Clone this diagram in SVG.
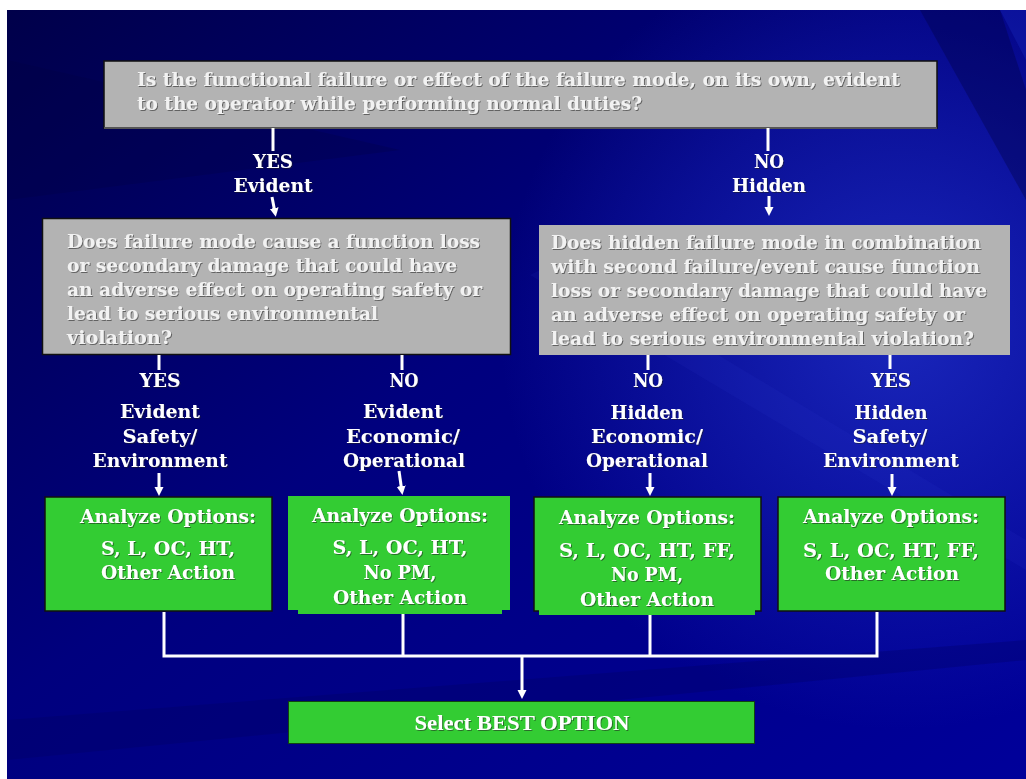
<svg xmlns="http://www.w3.org/2000/svg" width="1026" height="779" viewBox="0 0 1026 779">
<defs>
<linearGradient id="bg" x1="0" y1="0" x2="1" y2="1">
<stop offset="0" stop-color="#00004a"/>
<stop offset="0.45" stop-color="#00007e"/>
<stop offset="1" stop-color="#00009a"/>
</linearGradient>
<radialGradient id="glow" cx="900" cy="330" r="400" gradientUnits="userSpaceOnUse">
<stop offset="0" stop-color="#2436d0" stop-opacity="0.7"/>
<stop offset="1" stop-color="#2436d0" stop-opacity="0"/>
</radialGradient>
<filter id="ts" x="-5%" y="-30%" width="110%" height="160%">
<feDropShadow dx="1" dy="1" stdDeviation="0.4" flood-color="#222" flood-opacity="0.55"/>
</filter>
<marker id="ah" markerUnits="userSpaceOnUse" markerWidth="10" markerHeight="10" refX="1" refY="4.5" orient="auto">
<path d="M0,0 L9,4.5 L0,9 z" fill="#fff"/>
</marker>
<style>
.t{font-family:"DejaVu Serif","Liberation Serif",serif;font-weight:bold;font-size:18px;fill:#fff;filter:url(#ts)}
.g{fill:#f2f2f2}
.c{text-anchor:middle}
.gray{fill:#b3b3b3}
.green{fill:#33cc33}
.bd{stroke:#111;stroke-width:1.5}
.ln{stroke:#fff;stroke-width:3;fill:none}
.ar{stroke:#fff;stroke-width:3;fill:none;marker-end:url(#ah)}
</style>
</defs>
<rect x="0" y="0" width="1026" height="779" fill="#fff"/>
<g id="background">
<rect x="7" y="10" width="1019" height="769" fill="url(#bg)"/>
<rect x="7" y="10" width="1019" height="769" fill="url(#glow)"/>
<polygon points="920,10 1000,10 1026,90 1026,200" fill="#000040" opacity="0.35"/>
<polygon points="1000,10 1026,10 1026,60" fill="#1a2ac0" opacity="0.35"/>
<polygon points="7,60 400,150 7,200" fill="#000040" opacity="0.25"/>
<polygon points="7,720 1026,640 1026,660 7,760" fill="#000060" opacity="0.3"/>
<polygon points="560,260 1026,540 1026,570 530,275" fill="#3a4ae0" opacity="0.08"/>
</g>
<g id="q-evident">
<rect x="104" y="61" width="833" height="67" class="gray bd"/>
<line x1="104" y1="128" x2="937" y2="128" stroke="#555" stroke-width="2"/>
<text class="t g" x="137" y="86" textLength="763" lengthAdjust="spacingAndGlyphs">Is the functional failure or effect of the failure mode, on its own, evident</text>
<text class="t g" x="137" y="110" textLength="505" lengthAdjust="spacingAndGlyphs">to the operator while performing normal duties?</text>
</g>
<g id="q-evident-safety">
<rect x="42.5" y="218.5" width="468" height="136" class="gray bd"/>
<text class="t g" x="67" y="248" textLength="413" lengthAdjust="spacingAndGlyphs">Does failure mode cause a function loss</text>
<text class="t g" x="67" y="272" textLength="390" lengthAdjust="spacingAndGlyphs">or secondary damage that could have</text>
<text class="t g" x="67" y="296" textLength="415" lengthAdjust="spacingAndGlyphs">an adverse effect on operating safety or</text>
<text class="t g" x="67" y="320" textLength="311" lengthAdjust="spacingAndGlyphs">lead to serious environmental</text>
<text class="t g" x="67" y="344" textLength="105" lengthAdjust="spacingAndGlyphs">violation?</text>
</g>
<g id="q-hidden-safety">
<rect x="539" y="225" width="471" height="130" class="gray"/>
<text class="t g" x="551" y="249" textLength="430" lengthAdjust="spacingAndGlyphs">Does hidden failure mode in combination</text>
<text class="t g" x="551" y="273" textLength="429" lengthAdjust="spacingAndGlyphs">with second failure/event cause function</text>
<text class="t g" x="551" y="297" textLength="436" lengthAdjust="spacingAndGlyphs">loss or secondary damage that could have</text>
<text class="t g" x="551" y="321" textLength="414" lengthAdjust="spacingAndGlyphs">an adverse effect on operating safety or</text>
<text class="t g" x="551" y="345" textLength="423" lengthAdjust="spacingAndGlyphs">lead to serious environmental violation?</text>
</g>
<g id="opt-evident-safety">
<rect x="45" y="497" width="227" height="114" class="green bd"/>
<text class="t c" x="168" y="523" textLength="176" lengthAdjust="spacingAndGlyphs">Analyze Options:</text>
<text class="t c" x="168" y="555" textLength="134" lengthAdjust="spacingAndGlyphs">S, L, OC, HT,</text>
<text class="t c" x="168" y="579" textLength="134" lengthAdjust="spacingAndGlyphs">Other Action</text>
</g>
<g id="opt-evident-economic">
<rect x="288" y="496" width="222" height="114" class="green"/>
<rect x="298" y="606" width="204" height="8" class="green"/>
<text class="t c" x="400" y="522" textLength="176" lengthAdjust="spacingAndGlyphs">Analyze Options:</text>
<text class="t c" x="400" y="554" textLength="135" lengthAdjust="spacingAndGlyphs">S, L, OC, HT,</text>
<text class="t c" x="400" y="579" textLength="73" lengthAdjust="spacingAndGlyphs">No PM,</text>
<text class="t c" x="400" y="604" textLength="134" lengthAdjust="spacingAndGlyphs">Other Action</text>
</g>
<g id="opt-hidden-economic">
<rect x="534" y="497" width="227" height="114" class="green bd"/>
<rect x="539" y="607" width="216" height="8" class="green"/>
<text class="t c" x="647" y="524" textLength="176" lengthAdjust="spacingAndGlyphs">Analyze Options:</text>
<text class="t c" x="647" y="557" textLength="176" lengthAdjust="spacingAndGlyphs">S, L, OC, HT, FF,</text>
<text class="t c" x="647" y="581" textLength="72" lengthAdjust="spacingAndGlyphs">No PM,</text>
<text class="t c" x="647" y="606" textLength="134" lengthAdjust="spacingAndGlyphs">Other Action</text>
</g>
<g id="opt-hidden-safety">
<rect x="778" y="497" width="227" height="114" class="green bd"/>
<text class="t c" x="891" y="523" textLength="176" lengthAdjust="spacingAndGlyphs">Analyze Options:</text>
<text class="t c" x="891" y="557" textLength="176" lengthAdjust="spacingAndGlyphs">S, L, OC, HT, FF,</text>
<text class="t c" x="892" y="580" textLength="134" lengthAdjust="spacingAndGlyphs">Other Action</text>
</g>
<g id="select-best">
<rect x="288.5" y="701.5" width="466" height="42" class="green" stroke="#114411" stroke-width="1"/>
<text x="522" y="730" text-anchor="middle" font-family="Liberation Serif, serif" font-weight="bold" font-size="21" fill="#fff" textLength="215" lengthAdjust="spacingAndGlyphs" filter="url(#ts)">Select BEST OPTION</text>
</g>
<g id="connectors">
<line x1="273" y1="128" x2="273" y2="151" class="ln"/>
<line x1="272" y1="197" x2="274.3" y2="209" class="ar"/>
<line x1="768" y1="128" x2="768" y2="151" class="ln"/>
<line x1="769" y1="196" x2="769" y2="208" class="ar"/>
<line x1="159" y1="355" x2="159" y2="370" class="ln"/>
<line x1="402" y1="355" x2="402" y2="370" class="ln"/>
<line x1="648" y1="355" x2="648" y2="370" class="ln"/>
<line x1="890" y1="355" x2="890" y2="369" class="ln"/>
<line x1="159" y1="473" x2="159" y2="488" class="ar"/>
<line x1="399" y1="471" x2="401.3" y2="487" class="ar"/>
<line x1="650" y1="473" x2="650" y2="488" class="ar"/>
<line x1="892" y1="474" x2="892" y2="488" class="ar"/>
<polyline points="164,612 164,656 877,656 877,612" class="ln"/>
<line x1="403" y1="614" x2="403" y2="656" class="ln"/>
<line x1="650" y1="615" x2="650" y2="656" class="ln"/>
<line x1="522" y1="656" x2="522" y2="691" class="ar"/>
</g>
<g id="labels">
<text class="t c" x="273" y="168" textLength="40" lengthAdjust="spacingAndGlyphs">YES</text>
<text class="t c" x="273" y="192" textLength="79" lengthAdjust="spacingAndGlyphs">Evident</text>
<text class="t c" x="769" y="168" textLength="30" lengthAdjust="spacingAndGlyphs">NO</text>
<text class="t c" x="769" y="192" textLength="74" lengthAdjust="spacingAndGlyphs">Hidden</text>
<text class="t c" x="160" y="387" textLength="41" lengthAdjust="spacingAndGlyphs">YES</text>
<text class="t c" x="160" y="418" textLength="80" lengthAdjust="spacingAndGlyphs">Evident</text>
<text class="t c" x="160" y="443" textLength="75" lengthAdjust="spacingAndGlyphs">Safety/</text>
<text class="t c" x="160" y="467" textLength="135" lengthAdjust="spacingAndGlyphs">Environment</text>
<text class="t c" x="404" y="387" textLength="29" lengthAdjust="spacingAndGlyphs">NO</text>
<text class="t c" x="403" y="418" textLength="80" lengthAdjust="spacingAndGlyphs">Evident</text>
<text class="t c" x="403" y="443" textLength="114" lengthAdjust="spacingAndGlyphs">Economic/</text>
<text class="t c" x="404" y="467" textLength="122" lengthAdjust="spacingAndGlyphs">Operational</text>
<text class="t c" x="648" y="387" textLength="30" lengthAdjust="spacingAndGlyphs">NO</text>
<text class="t c" x="647" y="419" textLength="73" lengthAdjust="spacingAndGlyphs">Hidden</text>
<text class="t c" x="647" y="443" textLength="112" lengthAdjust="spacingAndGlyphs">Economic/</text>
<text class="t c" x="647" y="467" textLength="122" lengthAdjust="spacingAndGlyphs">Operational</text>
<text class="t c" x="891" y="387" textLength="40" lengthAdjust="spacingAndGlyphs">YES</text>
<text class="t c" x="891" y="419" textLength="73" lengthAdjust="spacingAndGlyphs">Hidden</text>
<text class="t c" x="890" y="443" textLength="75" lengthAdjust="spacingAndGlyphs">Safety/</text>
<text class="t c" x="891" y="467" textLength="136" lengthAdjust="spacingAndGlyphs">Environment</text>
</g>
</svg>
